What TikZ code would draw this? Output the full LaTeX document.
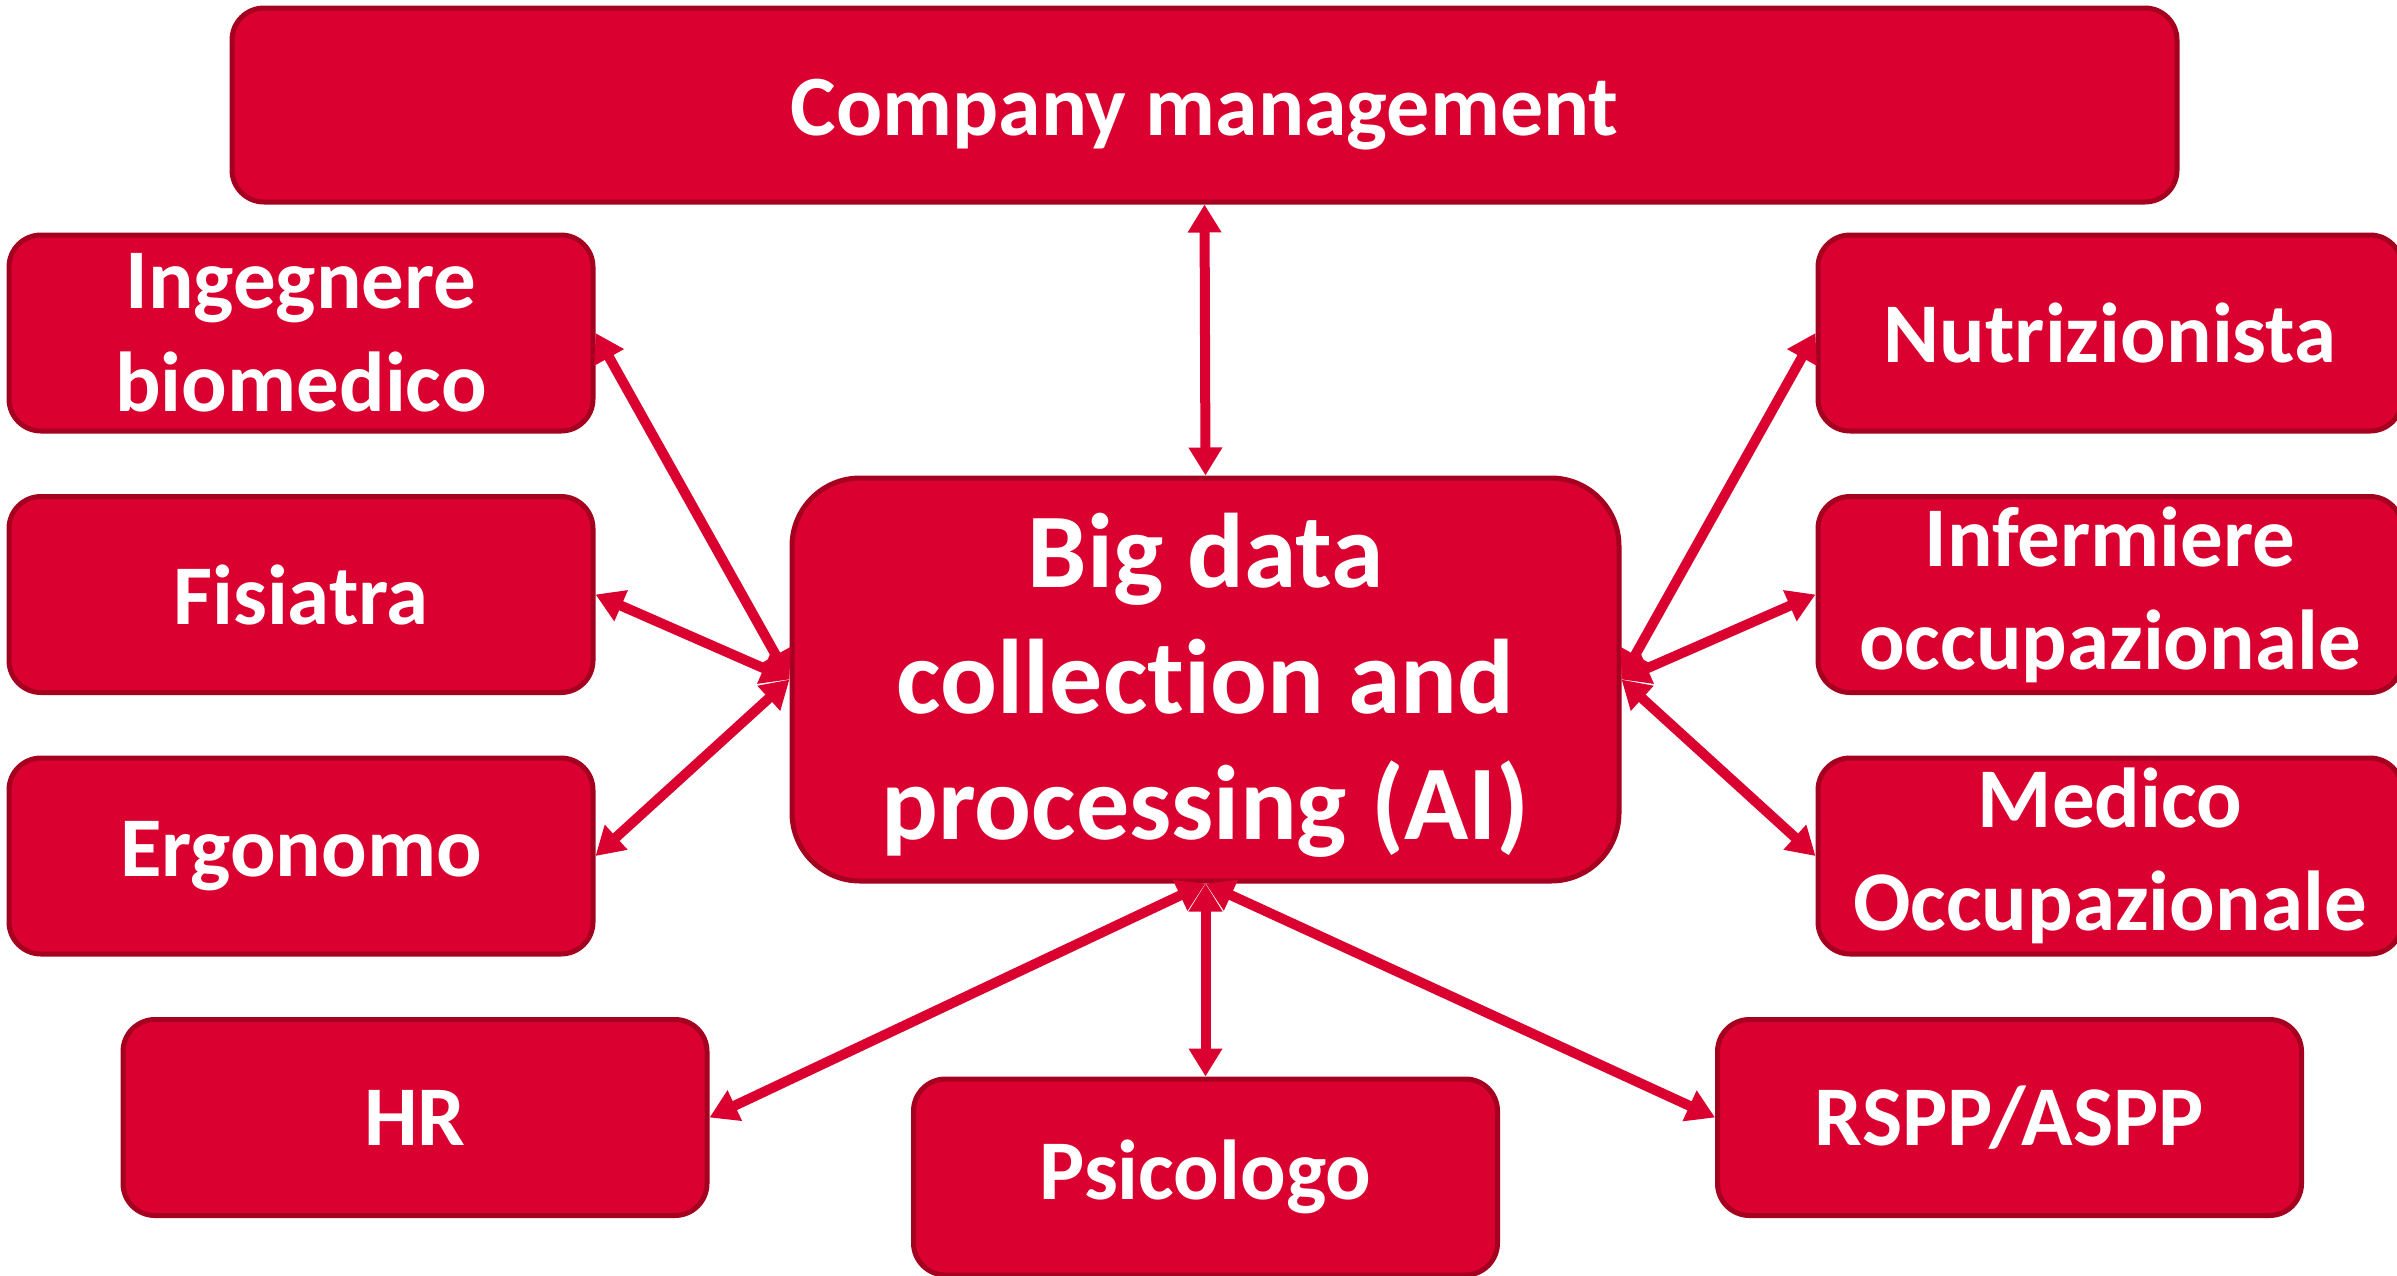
\documentclass[tikz,border=0pt]{standalone}
\usepackage{fontspec}
\setmainfont{Carlito}[Ligatures=NoCommon]
\usetikzlibrary{arrows.meta}
\definecolor{boxred}{RGB}{218,0,48}
\definecolor{boxedge}{RGB}{165,0,32}
\newcommand{\lowered}[2]{\raisebox{-#1}[\height][\depth]{\begin{tabular}{@{}c@{}}#2\end{tabular}}}
\tikzset{
  rolebox/.style={draw=boxedge, line width=5pt, fill=boxred, rounded corners=32pt,
    text=white, font=\bfseries\fontsize{85}{103}\selectfont, align=center,
    inner sep=0pt, minimum width=584pt, minimum height=196pt},
  hubbox/.style={rolebox, rounded corners=68pt, minimum width=827pt, minimum height=403pt,
    font=\bfseries\fontsize{106}{126}\selectfont},
  link/.style={draw=boxred, line width=10pt,
    {Triangle[length=28pt,width=32pt]}-{Triangle[length=28pt,width=32pt]}}
}
\begin{document}
\begin{tikzpicture}[x=1pt,y=-1pt]
\useasboundingbox (0,0) rectangle (2397,1275);
\clip (0,0) rectangle (2397,1275);
\node[rolebox, minimum width=1945pt, minimum height=194pt, font=\bfseries\fontsize{86}{104}\selectfont] (comp) at (1204.5,105) {\lowered{10pt}{Company management}};
\node[hubbox] (hub) at (1205.5,679.5) {\lowered{9pt}{Big data\\collection and\\processing (AI)}};
\node[rolebox] (ing) at (301,333) {Ingegnere\\biomedico};
\node[rolebox] (fis) at (301,594.5) {Fisiatra};
\node[rolebox] (erg) at (301,856) {Ergonomo};
\node[rolebox] (hr) at (415,1117.5) {HR};
\node[rolebox] (psi) at (1205.5,1177) {Psicologo};
\node[rolebox] (rspp) at (2009.5,1117.5) {RSPP/ASPP};
\node[rolebox] (nut) at (2110,333) {Nutrizionista};
\node[rolebox] (inf) at (2110,594.5) {Infermiere\\occupazionale};
\node[rolebox] (med) at (2110,856) {Medico\\Occupazionale};
\draw[link] (comp.south) -- (hub.north);
\draw[link] (ing.east) -- (hub.west);
\draw[link] (fis.east) -- (hub.west);
\draw[link] (erg.east) -- (hub.west);
\draw[link] (nut.west) -- (hub.east);
\draw[link] (inf.west) -- (hub.east);
\draw[link] (med.west) -- (hub.east);
\draw[link] (hr.east) -- (hub.south);
\draw[link] (psi.north) -- (hub.south);
\draw[link] (rspp.west) -- (hub.south);
\end{tikzpicture}
\end{document}
